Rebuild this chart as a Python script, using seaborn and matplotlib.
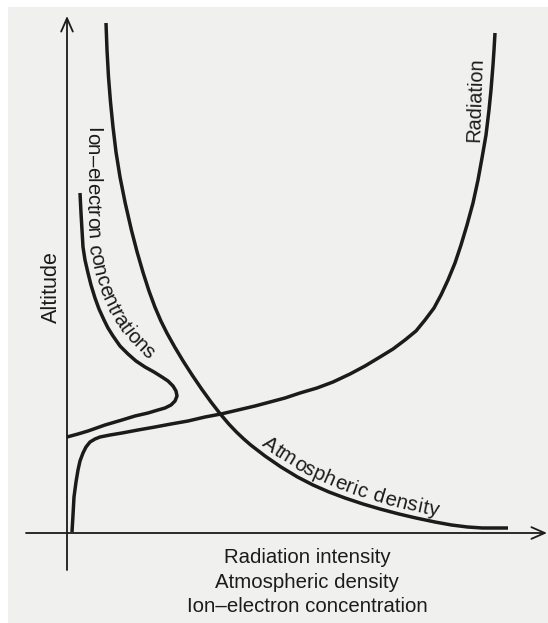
import numpy as np
import matplotlib
matplotlib.use("Agg")
import matplotlib.pyplot as plt
from matplotlib.font_manager import FontProperties
from matplotlib.patches import Rectangle
import seaborn as sns

# Schematic profiles (arbitrary units): x = quantity, y = altitude
density_x = [39, 40, 41.5, 43.5, 46, 49, 53, 58.2, 64.4, 70.1, 76.2, 82, 87.9, 93.9, 99.9, 107.7, 116.1, 125.1,
             134.6, 144, 153.3, 161.8, 169.4, 176.8, 183.7, 198, 214, 230.5, 246, 262, 278, 296, 313, 332, 349,
             368, 384.5, 400.5, 415.5, 441]
density_y = [510, 483, 456, 431, 406, 381, 356, 330, 303, 281, 260, 242, 226, 212, 200, 186, 172, 158, 144, 131,
             119, 109, 101, 94, 88, 77, 66, 56, 48, 41, 35, 29, 24, 19, 15, 11, 8, 6, 5, 5]

radiation_x = [5, 6, 7, 9, 11, 13, 16, 19, 23, 28, 33, 43, 55, 71, 88, 104, 121, 138, 154, 171, 188, 203, 218, 233,
               250, 266, 283, 298, 313, 326, 338, 349, 358, 367, 374, 381, 388, 394, 400, 406, 411, 415, 419, 422,
               424, 426, 427, 428]
radiation_y = [1, 18, 36, 51, 63, 72, 80, 86, 91, 94, 96, 98, 100, 103, 106, 109, 112, 116, 119, 123, 127, 131, 135,
               140, 145, 151, 159, 167, 176, 184, 193, 202, 213, 225, 238, 253, 270, 288, 308, 330, 353, 375, 398,
               423, 443, 468, 483, 500]

ion_x = [0, 11, 21, 38, 55, 68, 81, 91, 98, 104, 108, 110, 109, 106, 101, 95, 87, 78, 69, 61, 53, 46, 41, 37, 32,
         28, 24, 21, 18, 16, 15, 14, 13]
ion_y = [96, 99, 102, 108, 113, 117, 120, 123, 125, 128, 132, 137, 142, 147, 152, 156, 161, 166, 172, 179, 187,
         197, 205, 213, 224, 235, 248, 260, 273, 286, 303, 320, 340]

xlabel_lines = ["Radiation intensity", "Atmospheric density", "Ion–electron concentration"]
ylabel = "Altitude"
ion_label = "Ion–electron concentrations"
density_label = "Atmospheric density"
radiation_label = "Radiation"

# baseline guide for the curved ion label
ion_label_x = [20, 20, 22, 27, 35, 46, 59, 74, 90]
ion_label_y = [408, 303, 281, 258, 235, 213, 195, 180, 167]

ink = "#1b1b1b"
font = "Liberation Sans"

sns.set_theme(style="white")
plt.rcParams["font.family"] = [font, "DejaVu Sans"]

fig = plt.figure(figsize=(5.48, 6.23), dpi=100)
fig.patch.set_facecolor("white")
fig.patches.append(Rectangle((8 / 548, 0), 1, (623 - 7) / 623, transform=fig.transFigure,
                             facecolor="#f0f0ee", edgecolor="none", zorder=-5))

ax = fig.add_axes([0, 0, 1, 1])
ax.set_xlim(-67, 481)
ax.set_ylim(-90, 533)
ax.axis("off")
ax.patch.set_alpha(0)

line_kw = dict(sort=False, estimator=None, color=ink, linewidth=2.5, ax=ax,
               solid_joinstyle="round", solid_capstyle="butt")
sns.lineplot(x=density_x, y=density_y, **line_kw)
sns.lineplot(x=radiation_x, y=radiation_y, **line_kw)
sns.lineplot(x=ion_x, y=ion_y, **line_kw)

# axes with arrows
arrow = dict(arrowstyle="->,head_length=0.8,head_width=0.35", color=ink, lw=1.3,
             shrinkA=0, shrinkB=0)
ax.annotate("", xy=(480, 0), xytext=(-41, 0), arrowprops=arrow)
ax.annotate("", xy=(0, 517), xytext=(0, -37), arrowprops=arrow)

ax.text(-16, 246, ylabel, rotation=90, ha="center", va="center", fontsize=15.5, color=ink)
ax.text(408, 433, radiation_label, rotation=88, ha="center", va="center", fontsize=14.3, color=ink)
for i, line in enumerate(xlabel_lines):
    ax.text(240, -30 - 24.5 * i, line, ha="center", va="baseline", fontsize=14.7, color=ink)


def text_on_path(ax, text, xs, ys, start=0.0, offset=0.0, size=14.5, spacing=0.0):
    renderer = ax.figure.canvas.get_renderer()
    fp = FontProperties(family=font, size=size)
    pts = ax.transData.transform(np.column_stack([xs, ys]))
    seg = np.hypot(*np.diff(pts, axis=0).T)
    cum = np.concatenate([[0], np.cumsum(seg)])
    bar = renderer.get_text_width_height_descent("|", fp, ismath=False)[0]

    def width(s):
        return renderer.get_text_width_height_descent(s + "|", fp, ismath=False)[0] - bar

    for i, ch in enumerate(text):
        s = start + (width(text[:i]) + width(text[:i + 1])) / 2 + spacing * i
        k = int(np.clip(np.searchsorted(cum, s), 1, len(cum) - 1))
        d = pts[k] - pts[k - 1]
        d = d / np.hypot(*d)
        px = np.interp(s, cum, pts[:, 0]) - d[1] * offset
        py = np.interp(s, cum, pts[:, 1]) + d[0] * offset
        ang = np.degrees(np.arctan2(d[1], d[0]))
        xd, yd = ax.transData.inverted().transform((px, py))
        ax.text(xd, yd, ch, rotation=ang, rotation_mode="anchor", ha="center",
                va="baseline", fontproperties=fp, color=ink)


text_on_path(ax, ion_label, ion_label_x, ion_label_y, start=2, size=14.7)
text_on_path(ax, density_label, density_x[20:], density_y[20:], start=52, offset=6, size=14.7, spacing=0.6)

fig.savefig("out.png", dpi=100)
